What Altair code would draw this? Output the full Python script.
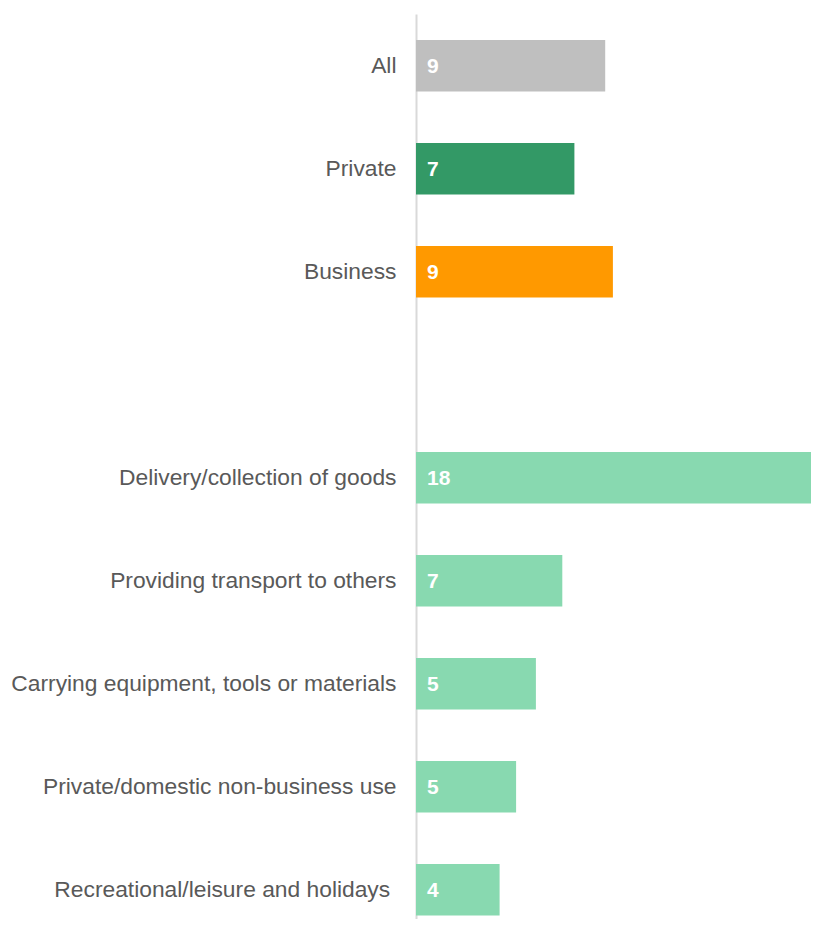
import altair as alt
import pandas as pd

categories = ["All", "Private", "Business", "",
              "Delivery/collection of goods", "Providing transport to others",
              "Carrying equipment, tools or materials", "Private/domestic non-business use",
              "Recreational/leisure and holidays\u00a0\u200b"]
bar_cats = ["All", "Private", "Business",
            "Delivery/collection of goods", "Providing transport to others",
            "Carrying equipment, tools or materials", "Private/domestic non-business use",
            "Recreational/leisure and holidays\u00a0\u200b"]
values = [8.6, 7.2, 8.95, 18.3, 6.65, 5.45, 4.55, 3.8]
labels = ["9", "7", "9", "18", "7", "5", "5", "4"]
colors = ["#bfbfbf", "#339966", "#ff9900", "#88d9b0", "#88d9b0", "#88d9b0", "#88d9b0", "#88d9b0"]

df = pd.DataFrame({"cat": bar_cats, "value": values, "label": labels, "color": colors})

y = alt.Y("cat:N", sort=categories,
          scale=alt.Scale(domain=categories, paddingInner=0.5, paddingOuter=0.1432, align=0.881),
          axis=alt.Axis(title=None, ticks=False, labelPadding=20, labelFontSize=22.8,
                        labelColor="#595959", labelFont="Liberation Sans",
                        domainColor="#d9d9d9", domainWidth=2, labelLimit=500))
x = alt.X("value:Q", scale=alt.Scale(domain=[0, 395 / 22.0], nice=False), axis=None)

bars = alt.Chart(df).mark_bar(clip=True).encode(
    y=y, x=x, color=alt.Color("color:N", scale=None)
)
text = alt.Chart(df).mark_text(align="left", baseline="middle", dx=11, dy=1,
                               fontSize=21, fontWeight="bold", color="white",
                               font="Liberation Sans").encode(
    y=alt.Y("cat:N", sort=categories), x=alt.datum(0), text="label:N"
)

chart = (bars + text).properties(
    width=395, height=905,
    autosize=alt.AutoSizeParams(type="none"),
    padding={"left": 408, "top": 6, "right": 0, "bottom": 0}
).configure_view(stroke=None).configure_axis(grid=False)

chart.save("out.html", embed_options={"renderer": "svg", "actions": False})
